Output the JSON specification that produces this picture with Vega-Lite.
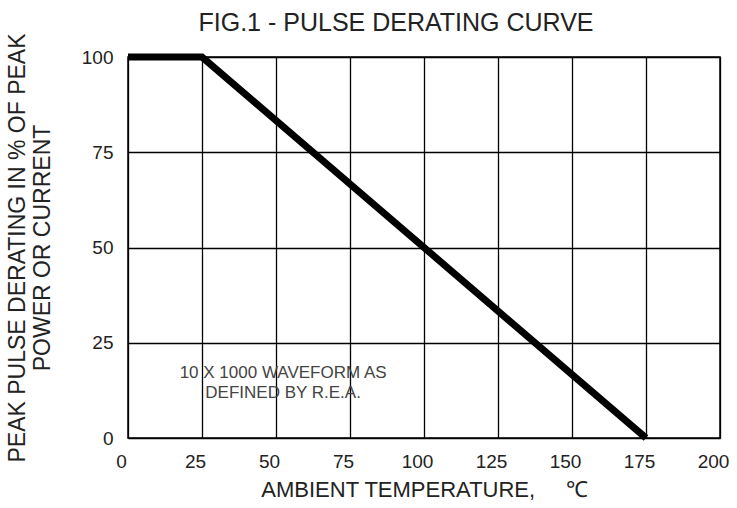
{
  "$schema": "https://vega.github.io/schema/vega-lite/v6.json",
  "autosize": "none",
  "width": 592,
  "height": 381,
  "padding": {"left": 128, "top": 57, "right": 17, "bottom": 70},
  "background": "white",
  "title": {
    "text": "FIG.1 - PULSE DERATING CURVE",
    "font": "Liberation Sans",
    "fontSize": 25,
    "fontWeight": "normal",
    "color": "#222",
    "anchor": "middle",
    "dx": -28,
    "offset": -3
  },
  "config": {
    "view": {"stroke": "black", "strokeWidth": 1.5},
    "axis": {
      "grid": true,
      "gridColor": "black",
      "gridOpacity": 1,
      "gridWidth": 1.3,
      "domain": false,
      "ticks": false,
      "labelFlush": false,
      "labelFont": "Liberation Sans",
      "labelColor": "#222",
      "titleFont": "Liberation Sans",
      "titleColor": "#222",
      "titleFontWeight": "normal"
    }
  },
  "datasets": {
    "curve": [
      {"temp": 0, "pct": 100},
      {"temp": 25, "pct": 100},
      {"temp": 175, "pct": 0}
    ],
    "note": [
      {"temp": 52.4, "pct": 17.1, "label": "10 X 1000 WAVEFORM AS"},
      {"temp": 52.4, "pct": 11.7, "label": "DEFINED BY R.E.A."}
    ]
  },
  "layer": [
    {
      "data": {"name": "curve"},
      "mark": {"type": "line", "color": "black", "strokeWidth": 7, "strokeJoin": "miter", "strokeCap": "butt"},
      "encoding": {
        "x": {
          "field": "temp", "type": "quantitative",
          "scale": {"domain": [0, 200], "nice": false},
          "axis": {
            "values": [0, 25, 50, 75, 100, 125, 150, 175, 200],
            "labelFontSize": 19,
            "labelPadding": 14,
            "labelOffset": -7,
            "title": "AMBIENT TEMPERATURE,\u00a0\u00a0\u00a0\u00a0\u00a0℃",
            "titleFontSize": 22,
            "titlePadding": 8
          }
        },
        "y": {
          "field": "pct", "type": "quantitative",
          "scale": {"domain": [0, 100], "nice": false},
          "axis": {
            "values": [0, 25, 50, 75, 100],
            "labelFontSize": 19,
            "labelPadding": 15,
            "title": ["PEAK PULSE DERATING IN % OF PEAK", "POWER OR CURRENT"],
            "titleFontSize": 23,
            "titlePadding": 27,
            "titleLineHeight": 25
          }
        }
      }
    },
    {
      "data": {"name": "note"},
      "mark": {"type": "text", "font": "Liberation Sans", "fontSize": 17, "color": "#444", "align": "center", "baseline": "middle"},
      "encoding": {
        "x": {"field": "temp", "type": "quantitative"},
        "y": {"field": "pct", "type": "quantitative"},
        "text": {"field": "label"}
      }
    }
  ]
}
